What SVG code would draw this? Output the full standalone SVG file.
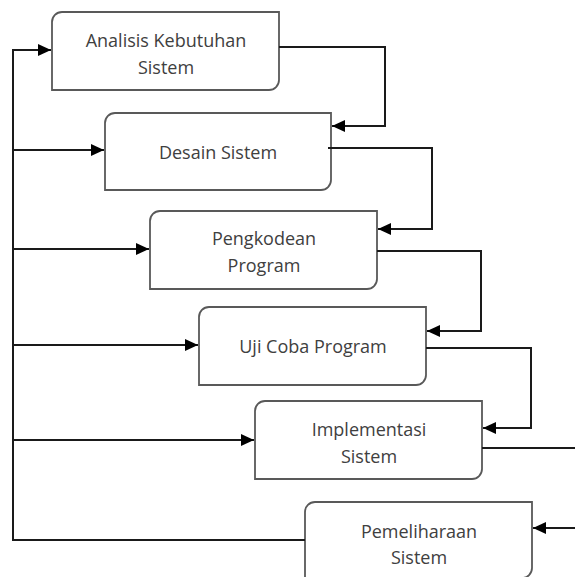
<svg xmlns="http://www.w3.org/2000/svg" width="575" height="577" viewBox="0 0 575 577">
<style>
.box{fill:#fff;stroke:#595959;stroke-width:1.8}
.lbl{font-family:"Open Sans","Liberation Sans",sans-serif;font-size:18px;fill:#404040;text-anchor:middle}
.con{fill:none;stroke:#1a1a1a;stroke-width:2}
</style>
<defs>
<marker id="ah" markerUnits="userSpaceOnUse" markerWidth="14" markerHeight="12" refX="13" refY="6" orient="auto">
<path d="M0,0 L13,6 L0,12 Z" fill="#000"/>
</marker>
</defs>
<rect width="575" height="577" fill="#fff"/>
<g id="n1">
<path class="box" d="M62,12 H279 V80 A10,10 0 0 1 269,90 H52 V22 A10,10 0 0 1 62,12 Z"/>
<text class="lbl" x="166" y="47">Analisis Kebutuhan</text>
<text class="lbl" x="166" y="74">Sistem</text>
</g>
<g id="n2">
<path class="box" d="M115,113 H331 V180 A10,10 0 0 1 321,190 H105 V123 A10,10 0 0 1 115,113 Z"/>
<text class="lbl" x="218" y="159">Desain Sistem</text>
</g>
<g id="n3">
<path class="box" d="M160,211 H377 V279 A10,10 0 0 1 367,289 H150 V221 A10,10 0 0 1 160,211 Z"/>
<text class="lbl" x="264" y="245">Pengkodean</text>
<text class="lbl" x="264" y="272">Program</text>
</g>
<g id="n4">
<path class="box" d="M209,307 H426 V375 A10,10 0 0 1 416,385 H199 V317 A10,10 0 0 1 209,307 Z"/>
<text class="lbl" x="313" y="353">Uji Coba Program</text>
</g>
<g id="n5">
<path class="box" d="M265,401 H482 V469 A10,10 0 0 1 472,479 H255 V411 A10,10 0 0 1 265,401 Z"/>
<text class="lbl" x="369" y="436">Implementasi</text>
<text class="lbl" x="369" y="463">Sistem</text>
</g>
<g id="n6">
<path class="box" d="M315,502 H532 V568 A10,10 0 0 1 522,578 H305 V512 A10,10 0 0 1 315,502 Z"/>
<text class="lbl" x="419" y="538">Pemeliharaan</text>
<text class="lbl" x="419" y="564">Sistem</text>
</g>
<g id="connectors">
<path class="con" d="M305,540 H13 V50 H51" marker-end="url(#ah)"/>
<path class="con" d="M13,150 H104" marker-end="url(#ah)"/>
<path class="con" d="M13,249 H149" marker-end="url(#ah)"/>
<path class="con" d="M13,345 H198" marker-end="url(#ah)"/>
<path class="con" d="M13,440 H254" marker-end="url(#ah)"/>
<path class="con" d="M279,47 H385 V126 H332" marker-end="url(#ah)"/>
<path class="con" d="M328,148 H432 V229 H378" marker-end="url(#ah)"/>
<path class="con" d="M377,251 H481 V331 H427" marker-end="url(#ah)"/>
<path class="con" d="M426,348 H531 V428 H483" marker-end="url(#ah)"/>
<path class="con" d="M482,448 H575"/>
<path class="con" d="M575,528 H533" marker-end="url(#ah)"/>
</g>
</svg>
